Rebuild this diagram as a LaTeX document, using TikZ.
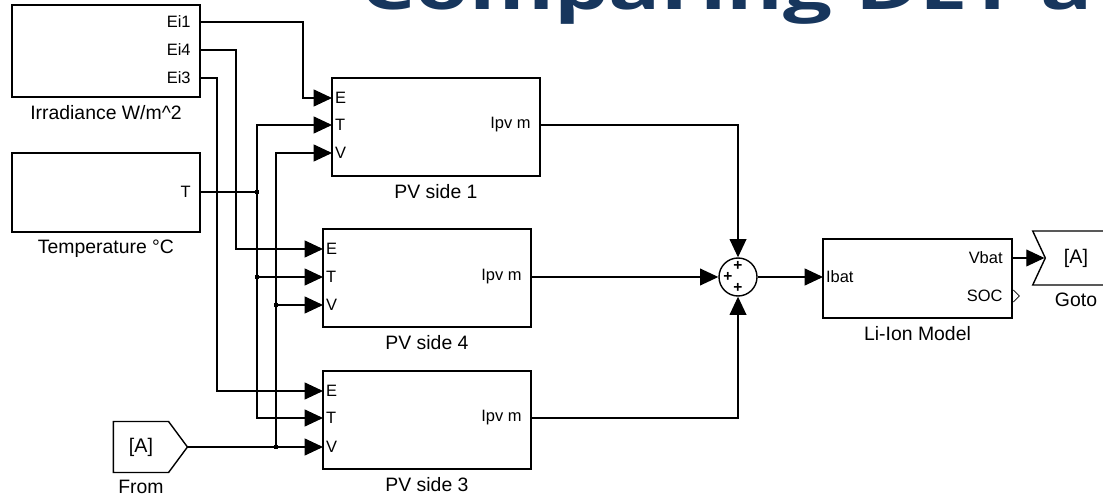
\documentclass[tikz,border=0pt]{standalone}
\usepackage{fontspec}
\setmainfont{Liberation Sans}
\newfontfamily\titlefont{Open Sans}[FakeStretch=1.4]
\usepackage{tikz}
\usetikzlibrary{arrows.meta,positioning,shapes.symbols}
\definecolor{titleblue}{RGB}{23,54,93}

\begin{document}
\begin{tikzpicture}[scale=1.0,
  blk/.style={draw,line width=1pt,inner sep=0pt},
  lbl/.style={font=\fontsize{13.8}{15}\selectfont,inner sep=1pt},
  inport/.style={font=\fontsize{11.7}{13}\selectfont,anchor=west,inner xsep=2pt,inner ysep=1pt},
  outport/.style={font=\fontsize{11.7}{13}\selectfont,anchor=east,inner xsep=6.5pt,inner ysep=1pt},
  pls/.style={font=\bfseries\fontsize{11}{11}\selectfont,inner sep=0pt},
  sig/.style={line width=0.9pt,-{Triangle[length=13pt,width=12pt]}},
  wire/.style={line width=0.9pt},
  dot/.style={fill,rectangle,inner sep=0pt,minimum size=3.2pt},
  tag/.style={draw,line width=1pt,signal,font=\fontsize{14}{16}\selectfont,inner sep=0pt}]
  \useasboundingbox (0,0) rectangle (27.575,12.5);
  % ---------- title ----------
  \node[font=\titlefont\bfseries\fontsize{44}{48}\selectfont,text=titleblue,
    anchor=base west,inner sep=0pt] (title) at (9.0,12.25) {Comparing DET a};
  % ---------- sources ----------
  \node[blk,minimum width=4.7cm,minimum height=2.3cm] (irr) at (2.65,11.225) {};
  \node[lbl,below=4pt of irr] (irrname) {Irradiance W/m\textasciicircum 2};
  \node[outport] (irrEi1) at (5.0,11.95) {Ei1};
  \node[outport] (irrEi4) at (5.0,11.25) {Ei4};
  \node[outport] (irrEi3) at (5.0,10.55) {Ei3};
  \node[blk,minimum width=4.7cm,minimum height=1.975cm] (tmp) at (2.65,7.6875) {};
  \node[lbl,below=4pt of tmp] (tmpname) {Temperature °C};
  \node[outport] (tmpT) at (5.0,7.7) {T};
  \node[tag,signal to=east,signal pointer angle=107,
    minimum width=1.85cm,minimum height=1.275cm] (from) at (3.525,1.325) {[A]};
  \node[lbl,below=4pt of from] (fromname) {From};
  % ---------- PV sides ----------
  \node[blk,minimum width=5.2cm,minimum height=2.45cm] (pv1) at (10.9,9.325) {};
  \node[lbl,below=4pt of pv1] (pv1name) {PV side 1};
  \node[inport] (pv1E) at (8.3,10.05) {E};
  \node[inport] (pv1T) at (8.3,9.375) {T};
  \node[inport] (pv1V) at (8.3,8.675) {V};
  \node[outport] (pv1o) at (13.5,9.375) {Ipv m};
  \node[blk,minimum width=5.2cm,minimum height=2.45cm] (pv4) at (10.675,5.55) {};
  \node[lbl,below=4pt of pv4] (pv4name) {PV side 4};
  \node[inport] (pv4E) at (8.075,6.275) {E};
  \node[inport] (pv4T) at (8.075,5.575) {T};
  \node[inport] (pv4V) at (8.075,4.875) {V};
  \node[outport] (pv4o) at (13.275,5.575) {Ipv m};
  \node[blk,minimum width=5.2cm,minimum height=2.45cm] (pv3) at (10.675,2.0) {};
  \node[lbl,below=4pt of pv3] (pv3name) {PV side 3};
  \node[inport] (pv3E) at (8.075,2.725) {E};
  \node[inport] (pv3T) at (8.075,2.05) {T};
  \node[inport] (pv3V) at (8.075,1.325) {V};
  \node[outport] (pv3o) at (13.275,2.05) {Ipv m};
  % ---------- sum and battery ----------
  \node[circle,draw,line width=1pt,minimum size=0.95cm,inner sep=0pt] (sum) at (18.45,5.575) {};
  \node[pls] (sumA) at (18.45,5.85) {+};
  \node[pls] (sumB) at (18.2,5.575) {+};
  \node[pls] (sumC) at (18.45,5.3) {+};
  \node[blk,minimum width=4.725cm,minimum height=1.975cm] (li) at (22.9375,5.5375) {};
  \node[lbl,below=4pt of li] (liname) {Li-Ion Model};
  \node[inport] (liIbat) at (20.575,5.575) {Ibat};
  \node[outport] (liVbat) at (25.3,6.05) {Vbat};
  \node[outport] (liSOC) at (25.3,5.1) {SOC};
  \draw[line width=0.6pt] ([xshift=1pt,yshift=4.25pt]liSOC.east) -- ++(4.25pt,-4.25pt) -- ++(-4.25pt,-4.25pt);
  \node[tag,signal to=nowhere,signal from=west,signal pointer angle=130,
    minimum width=1.85cm,minimum height=1.35cm] (goto) at (26.9,6.05) {[A]};
  \node[lbl,below=4pt of goto] (gotoname) {Goto};
  % ---------- E wires ----------
  \draw[sig] (irrEi1.east) -- ++(2.575,0) |- (pv1E.west);
  \draw[sig] (irrEi4.east) -- ++(0.9,0) |- (pv4E.west);
  \draw[sig] (irrEi3.east) -- ++(0.425,0) |- (pv3E.west);
  % ---------- T bus ----------
  \node[dot] (tj1) at (6.425,7.7) {};
  \node[dot] (tj2) at (6.425,5.575) {};
  \draw[wire] (tmpT.east) -- (tj1.center);
  \draw[sig] (tj1.center) |- (pv1T.west);
  \draw[sig] (tj1.center) |- (pv3T.west);
  \draw[sig] (tj2.center) -- (pv4T.west);
  % ---------- V bus ----------
  \node[dot] (vj1) at (6.9,1.325) {};
  \node[dot] (vj2) at (6.9,4.875) {};
  \draw[sig] (from.east) -- (pv3V.west);
  \draw[sig] (vj1.center) |- (pv1V.west);
  \draw[sig] (vj2.center) -- (pv4V.west);
  % ---------- outputs ----------
  \draw[sig] (pv1o.east) -| (sum.north);
  \draw[sig] (pv4o.east) -- (sum.west);
  \draw[sig] (pv3o.east) -| (sum.south);
  \draw[sig] (sum.east) -- (liIbat.west);
  \draw[sig] (liVbat.east) -- (goto.west);
\end{tikzpicture}
\end{document}
